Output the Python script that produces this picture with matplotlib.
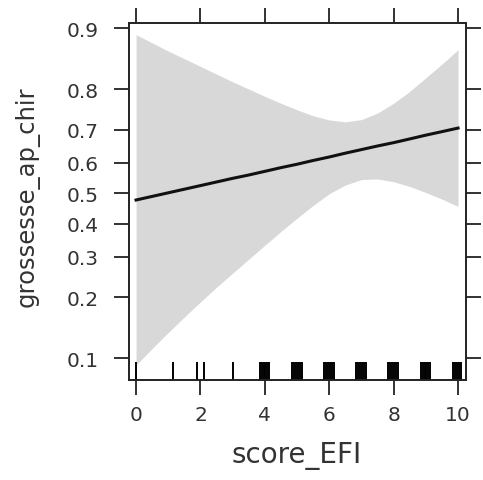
import matplotlib
matplotlib.use("Agg")
import matplotlib.pyplot as plt
import matplotlib.transforms as mtransforms

# ---- data ----
x_grid = [0, 0.5, 1, 1.5, 2, 2.5, 3, 3.5, 4, 4.5, 5, 5.5,
          6, 6.5, 7, 7.5, 8, 8.5, 9, 9.5, 10]
fit_p = [0.477, 0.489, 0.501, 0.513, 0.525, 0.537, 0.549, 0.560, 0.572, 0.584,
         0.595, 0.607, 0.618, 0.630, 0.641, 0.652, 0.662, 0.673, 0.684, 0.694, 0.704]
upper_p = [0.892, 0.881, 0.869, 0.857, 0.844, 0.830, 0.815, 0.800, 0.784, 0.768,
           0.752, 0.737, 0.726, 0.721, 0.727, 0.744, 0.768, 0.795, 0.823, 0.848, 0.871]
lower_p = [0.092, 0.112, 0.135, 0.161, 0.190, 0.222, 0.256, 0.293, 0.333, 0.375,
           0.417, 0.459, 0.498, 0.527, 0.545, 0.547, 0.538, 0.522, 0.502, 0.480, 0.456]

rug_x = [0.0, 1.15, 1.9, 2.1, 3.0,
         3.84, 3.9, 3.96, 4.02, 4.08, 4.14,
         4.84, 4.9, 4.96, 5.02, 5.08, 5.14,
         5.84, 5.9, 5.96, 6.02, 6.08, 6.14,
         6.84, 6.9, 6.96, 7.02, 7.08, 7.14,
         7.84, 7.9, 7.96, 8.02, 8.08, 8.14,
         8.84, 8.9, 8.96, 9.02, 9.08, 9.14,
         9.84, 9.9, 9.96, 10.02, 10.08]

x_ticks = [0, 2, 4, 6, 8, 10]
y_ticks = [0.1, 0.2, 0.3, 0.4, 0.5, 0.6, 0.7, 0.8, 0.9]
y_tick_labels = ["0.1", "0.2", "0.3", "0.4", "0.5", "0.6", "0.7", "0.8", "0.9"]
x_label = "score_EFI"
y_label = "grossesse_ap_chir"

plt.rcParams['font.family'] = ['DejaVu Sans']

fig = plt.figure(figsize=(4.83, 4.81), dpi=100)
ax = fig.add_axes([0.267, 0.208, 0.698, 0.742])

ax.set_yscale('logit')
ax.fill_between(x_grid, lower_p, upper_p, color='#d8d8d8', linewidth=0)
ax.plot(x_grid, fit_p, color='#111111', linewidth=2.2)

trans = mtransforms.blended_transform_factory(ax.transData, ax.transAxes)
ax.vlines(rug_x, 0, 0.05, transform=trans, color='black', linewidth=1.4)

ax.set_xlim(-0.22, 10.25)
ax.set_ylim(0.0766, 0.906)
ax.set_xticks(x_ticks)
ax.set_xticklabels([str(t) for t in x_ticks])
ax.set_yticks(y_ticks)
ax.set_yticklabels(y_tick_labels)
ax.yaxis.set_minor_locator(matplotlib.ticker.NullLocator())
ax.xaxis.set_minor_locator(matplotlib.ticker.NullLocator())

ax.tick_params(axis='both', direction='out', length=11, width=1.3,
               labelsize=14.5, colors='#222222', labelcolor='#333333')
ax.tick_params(axis='x', pad=7, top=True, labeltop=False)
ax.tick_params(axis='y', pad=11, right=True, labelright=False)
for s in ax.spines.values():
    s.set_linewidth(1.4)
    s.set_color('#222222')

fig.text(0.615, 0.0374, x_label, ha='center', va='baseline', fontsize=20, color='#333333')
fig.text(0.056, 0.5915, y_label, ha='center', va='center', rotation=90, fontsize=17.5, color='#333333')

fig.savefig('out.png', dpi=100)
